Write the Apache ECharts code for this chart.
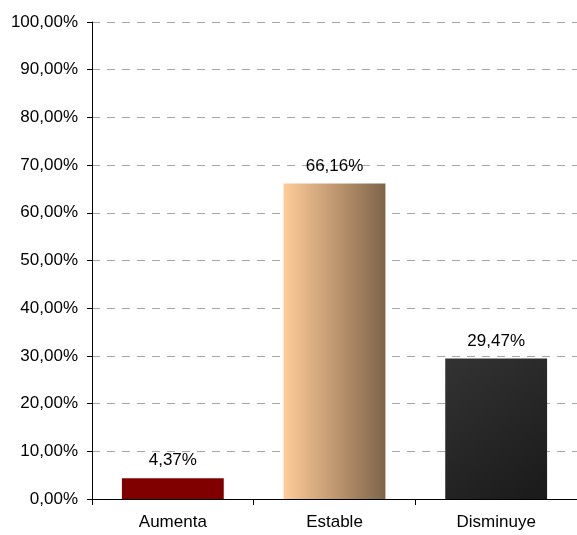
<!DOCTYPE html>
<html><head><meta charset="utf-8">
<script src="https://cdn.jsdelivr.net/npm/echarts@6/dist/echarts.min.js"></script>
<style>html,body{margin:0;padding:0;background:#fff}#c{width:577px;height:535px}</style>
</head><body><div id="c"></div>
<script>
var categories = ['Aumenta', 'Estable', 'Disminuye'];
var values = [4.37, 66.16, 29.47];
var yTicks = [0, 10, 20, 30, 40, 50, 60, 70, 80, 90, 100];

function fmt(v){ return v.toFixed(2).replace('.', ',') + '%'; }

var colors = [
  '#800000',
  new echarts.graphic.LinearGradient(0,0,1,0,[{offset:0,color:'#FFCC99'},{offset:1,color:'#7F6449'}]),
  new echarts.graphic.LinearGradient(0,0,1,1,[{offset:0,color:'#333333'},{offset:1,color:'#1A1A1A'}])
];

var FONT = 'Liberation Sans, Arial';
var chart = echarts.init(document.getElementById('c'));
chart.setOption({
  animation:false,
  grid:{left:92,top:22,right:0,bottom:36,containLabel:false},
  xAxis:{
    type:'category', data:categories,
    axisLine:{lineStyle:{color:'#000',width:1}},
    axisTick:{show:true,length:6,lineStyle:{color:'#000'}},
    axisLabel:{color:'#000',fontSize:17,fontFamily:FONT,margin:15}
  },
  yAxis:{
    type:'value', min:yTicks[0], max:yTicks[yTicks.length-1], interval:10,
    axisLine:{show:true,lineStyle:{color:'#000',width:1}},
    axisTick:{show:true,length:5,inside:false,lineStyle:{color:'#000'}},
    axisLabel:{color:'#000',fontSize:17,fontFamily:FONT,margin:14,
      formatter:function(v){return fmt(v);}},
    splitLine:{show:true,lineStyle:{color:'#A6A6A6',type:[8,7],width:1}}
  },
  series:[{
    type:'bar', barCategoryGap:'37%',
    data:values.map(function(v,i){return {value:v,itemStyle:{color:colors[i]}};}),
    label:{show:true,position:'top',distance:9,color:'#000',fontSize:17,
      fontFamily:FONT,
      formatter:function(p){return fmt(p.value);}}
  }]
});
</script></body></html>
